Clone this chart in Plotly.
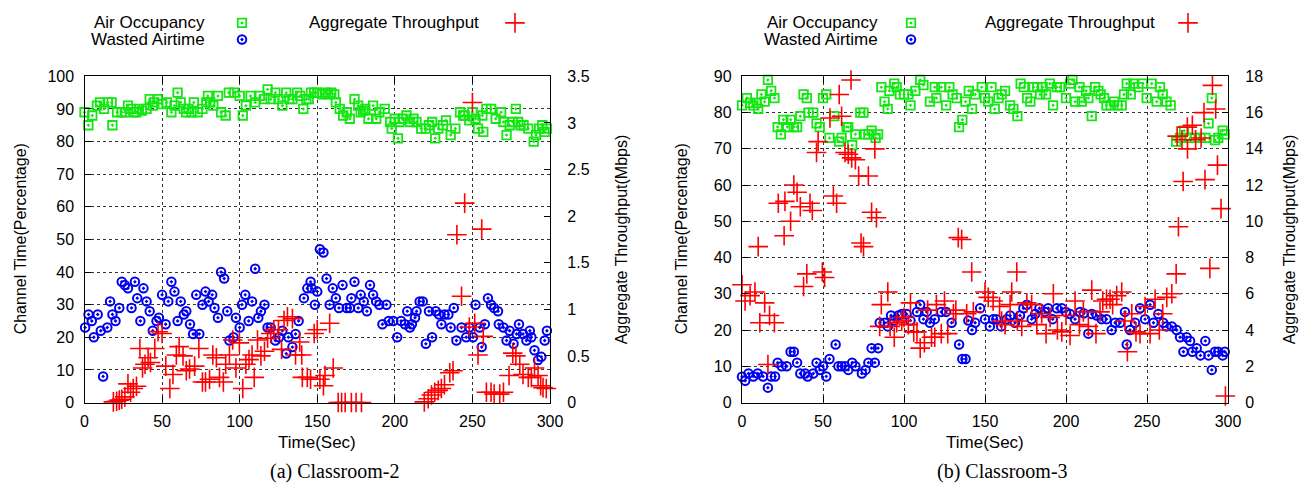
import plotly.graph_objects as go

# ---------------- Classroom-2 data ----------------
air2_t = [0,2.5,5,8,10,12.6,15,17.5,18,21, 24,26,28,30,32,33.5,35,37,40,42,
          44,45,47,50,53,56,58,60,62,64, 65.5,67,69,70.5,73,76,78.5,79.5,81,83,
          86,88,91,93,96.5,100,102,104,107,110, 113,116,118,120,123,125,127.5,130,132,134,
          137,139,141,143,144.5,146,148,150,153,155, 157,159,161,162,164.5,166.7,169,171,174,176.4,
          178,179.6,181,183,186,188,190,193.5,197,198, 200,202,203,205,207.5,209.7,212,214,217,220,
          222,224,226,228,231,233,236,239,242,244, 245,248,250,252,253.6,256.4,257,259,262,265,
          268.5,270,272,274,276,278,279.5,281,283,286, 289.5,291,293,295,296.5,298]
air2_v = [89,85,88,91,92,90,92,92,85,89, 89,89,91,90,89,89,90,89.5,90,93,
          91,92,93,91.5,92,89,91,95,92,90, 89,90,89,92,89,90,92,94,92,91,
          94,89,88,95,95,94,88,91,94,92, 94,93,96,93,95,93,91,95,93,93,
          95,94,90,93,93,95,95,95,94.5,95, 94.5,95,94.5,92,90,88,89,87,93,91,
          89,89.5,90,87,91,87,89,90,86,84, 87,81,86,87,88,86,87,86,84,84,
          85,86,81,84,85,86.5,82,84,89,88, 88,86.5,89,87,84,88,83,90,90,87,
          89,86,82,85,86,90,86,85,85,84, 80,82,84,85,83,84]

waste2_t = [0.4,2.6,4.7,6,8.5,10.5,12,14.7,16.5,18, 20,22.4,24,26,28,30.3,32.5,34,36,38,
            40,42,44,46.4,48,50,52.3,54,56,58, 60,62,64,65.6,68,70,72,74,76,78,
            80,82.3,83.8,86,88,90,92,93.4,96,97.6, 100,101.5,103.6,105.8,108,110,112,113.7,116,118,
            120,123,125.4,127.5,130,131.4,134,136,138,141.4, 143.6,145.7,146.4,148.5,150,151.7,154,156,158,160,
            162,164,166.3,169,171,172,174,176.4,178,180, 182,184,186,188,190,192,194.6,196,199,201.5,
            204,206.5,208,209.7,211,213,214,216,218,220, 222,224,226.4,228.5,230,232,234.5,236,238,239.7,
            243,246,248,250.4,252,254.7,256,258,260,262, 264,266.5,267,270,272,274,276.5,278.5,280,282.6,
            284.8,287,288,290,292.3,294.4,296.6,298]
waste2_v = [23,27,25,20,27,22,8,23,31,27, 25,29,37,36,35,29,37,32,25,35,
            31,28,22,25,26,33,24,31,37,34, 25,31,27,28,24,21,33,21,30,34,
            31,33,29,26,40,38,28,19,20,26, 23,30,33,25,31,41,26,28,30,23,
            23,19,20,22,15,20,17,21,25,32, 35,37,35,30,34,47,46,38,30,35,
            32,29,36,29,29,32,37,29,33,31, 28,36,33,31,30,24,30,25,25,20,
            25,24,28,23,24,26,28,31,31,18, 28,20,28,27,24,27,27,23,29,19,
            23,20,23,20,30,23,17,24,32,30, 29,28,24,23,19,22,18,21,24,21,
            19,22,20,16,13,14,19,22]

thr2_t = [18.6,20.7,22.4,24,26,28,29.7,31.4,33.5,35.7, 37.4,39,41,42.5,45.3,47.4,50,52.4,55,57,
          59.2,61,63.5,65.6,67.7,71,73.7,76,78,80.6, 82.7,85,87,89.5,91,93.4,95.5,97.6,99.8,102,
          104,106,108,109.4,111.5,113.7,116,118,120,122, 125,127,128.6,130.8,134,136,138.7,140,140.4,143.6,
          145.7,148,150,151.7,154,155,158,160.3,163.5,165.7, 168,172,175,178.5,219,221.5,223.6,225.7,228,230,
          232,235.4,237.5,240,243,245,248,250,251.5,253.6, 256,257,259,262,264,267.6,270,273.6,276,278,
          280.5,282.6,286,288,290,292.3,294,295.5,297.6]
thr2_v = [0.007,0.014,0.025,0.035,0.06,0.2,0.11,0.15,0.175,0.58, 0.37,0.41,0.48,0.43,0.58,0.76,0.74,0.39,0.15,0.30,
          0.51,0.60,0.50,0.34,0.36,0.39,0.58,0.22,0.22,0.25, 0.51,0.48,0.27,0.22,0.41,0.51,0.67,0.37,0.64,0.15,
          0.41,0.46,0.51,0.27,0.67,0.50,0.55,0.69,0.74,0.78, 0.78,0.57,0.88,0.92,0.90,0.51,0.65,0.51,0.27,0.27,
          0.25,0.74,0.78,0.25,0.18,0.29,0.85,0.37,0,0, 0,0,0,0,0.007,0.04,0.08,0.11,0.13,0.15,
          0.19,0.32,0.34,1.80,1.14,2.14,0.81,3.22,0.85,0.51, 1.86,0.71,0.11,0.11,0.09,0.09,0.11,0.29,0.53,0.50,
          0.41,0.30,0.27,0.27,0.37,0.29,0.18,0.16,0.15]

# ---------------- Classroom-3 data ----------------
air3_t = [0,3,5,7,9,10,12,14,16,18, 20,22,24,25.5,28,30,32,34,36,38,
          40,41,44,46,48,50,52,54,57,60, 61.5,64.6,65.6,68,70,73,75,76,78,80,
          82.5,84,86,88,90,91,94,95.5,97.5,100, 102.7,104,107,110,112,116,119,120,123,126,
          128,130,132.5,134,136,138,140,142,144,148, 150,152,154,156,158.3,160.3,162.4,165.5,167.5,170,
          172,174,176,178,180,182.3,184,185.6,187.7,190, 192,194.3,196.3,200,202.5,204,205.6,208.3,209.7,212.4,
          213.8,215.9,218,220,221.4,223.5,225,227.6,229.7,231.7, 234.4,235.8,237.5,240,241.6,244.7,247.4,249.8,252.9,256,
          258,259.7,262,264.6,268,270.4,272.9,276.6,279.7,283, 286,288,290,292,294,296.7,298]
air3_v = [82,84,82.7,82,82.7,81,85,83,89,86, 84,76,74,78,76,78,76,76,79,85,
          84,80,80,77,76,84,85,73,79,72, 73,76,76,71,74,80,80,74,74,75,
          73,74,87,83,81,86,88,87,85,85, 85,82,86,89,87.6,83,87,84,87,82,
          87,85,84,76,78,83,86,81,85,87, 84,83,87,81,84,85,86,82,81,79,
          88,87,84,83,87,87,85,87,85,88, 82,87,87,84,88,89,83,87,83,86,
          84,79,87,86,85,84,82,82,83,82, 82,85,88,85,88,87,88,84,88,83,
          87,85,83,82,72,73,75,73,73,73, 73,77,84,72.4,73,75,74]

waste3_t = [0,2,4,7,9.7,13,16,18,20.4,22, 24.5,27.6,30,32,34,36,39,40.5,44,46,
            48,50,52,54,57.8,59.5,61.5,63.6,65.6,68, 70,74,76.3,78,80,82,84,85,88,90,
            92,94,96.5,98.6,101.6,104,108,110,112,114, 116,119,123,126,129.4,134,136,138,139.7,142,
            143.9,147,150,153,155,157,160,163.4,165.5,168.5, 171.6,173.7,175.8,178.8,181,183.6,187,189,191.8,194.3,
            197.4,200,202.5,205.6,208.7,211,213.8,215.9,219,222, 225,228.2,230.3,233.4,236.4,237.5,239.5,242.6,245.7,248.8,
            251.9,254,257,260,262,265.3,268.3,270.4,272.5,274.5, 276.6,278,280.7,283,286,288,290,292,294,296.7,
            298]
waste3_v = [7.1,6,8,7.2,8,7.2,4.1,7.2,7.2,11, 10,10,14,14,11,8,8,7.2,8,11,
            9,10,7.2,12,16,10,10,10,9,11, 10,8,9,11,15,11,15,22,22,21,
            24,22.6,24,24.4,24.4,22.6,25,27,23,25, 22,23,25,25,22,16,12,12,22.6,20,
            22,26,23,21,23,23,21,23,24,22, 24,26,27,23,24.4,26,25,26,23,26,
            26,25,24.4,23,25,24.6,19,24.4,24,23, 23,20,22,22,25,16,20,22,26,23,
            27,22,24.4,22,21,21,20,18,14,18, 17,14,15,13,17,13,9,14,14,13,
            14]

thr3_t = [0,1.9,5,8,10,11,14,16,17,20, 22.4,26,26.5,30,32,34,36,38,40,42,
          43.4,46,47,49.6,51,54.3,56.4,58.4,60,61.5, 63.6,65.6,67.3,67.7,70,72,73.5,75,78,80,
          82,83,85,86,90,91.4,94,95.5,98.6,100, 102.7,104,106,108,110,112.6,114.6,117,119,120,
          123,125,127,130.5,132,133.5,135.6,138.7,141.8,142.8, 150,152,155,159,160.3,162.4,165.5,166.5,169.6,170,
          172.7,175.8,178.8,182,185,187.7,190.2,192.2,194.7,197.4, 200,202.5,205.6,208.3,210.7,213.8,215.9,218.5,221,222.7,
          225,227.2,228.8,231.3,234.4,236.4,237.9,240.6,243.2,245.7, 248.8,251.9,255,257.6,259.7,262.2,265.3,268,269.4,268.6,
          271.6,272.3,274.9,275,278,280,283.4,285.2,285.8,288.8, 290.4,292.4,293.5,295.7,298.4]
thr3_v = [6.5,5.6,5.9,6.1,8.6,4.4,5.5,2.1,4.8,4.4, 11,9.2,11.1,10,12,11.6,10.8,6.4,7.1,11,
          10.6,13.8,14.4,7.2,6.9,15.7,11.4,11,17,15.8, 13.8,13.7,17.8,13.5,13.4,12.5,8.8,8.6,12.5,10.5,
          14,10.2,4.2,5.4,6.1,4.2,3.6,4.4,4.5,4.7, 4.3,5.5,3.9,3.9,3,3.3,5.1,3.6,3.6,5.4,
          3.8,5.6,3.8,4.9,5.1,9.1,9.0,4.9,7.2,5.0, 6.1,5.8,5.6,5.3,4.5,4.3,5.4,6.1,7.2,4.5,
          4.2,5.5,5.4,4.3,4.9,3.8,4.7,6.0,4.0,3.9, 4.8,3.7,5.6,4.3,5.0,4.2,6.2,3.8,5.0,5.6,
          5.7,5.7,5.4,5.9,6.1,4.5,2.8,4.9,3.9,3.8, 5.3,3.8,5.7,4.0,4.9,5.8,6.0,7.1,9.7,14.7,
          14.5,12.2,15.2,14.0,15.3,14.5,14.6,16.0,12.3,7.4, 17.5,16.2,13.1,10.7,0.36]

x_ticks = [0, 50, 100, 150, 200, 250, 300]
series_names = ["Air Occupancy", "Wasted Airtime", "Aggregate Throughput"]
captions = ["(a) Classroom-2", "(b) Classroom-3"]

# ---------------- layout geometry ----------------
# the page body adds an 8px margin, so the figure is made 8px smaller and
# positions below are given in screenshot pixels, shifted by that offset
OFF = 8
W, H = 1309 - OFF, 488 - OFF
def px(x):
    return (x - OFF) / W
def py(y):
    return 1 - (y - OFF) / H

SANS = "Liberation Sans, Arial, Helvetica, sans-serif"
SERIF = "Liberation Serif, Times New Roman, serif"
GREEN = "#14e614"
BLUE = "#0000f0"
RED = "#ff0000"

ydom = [py(400.5), py(66.7)]
xdom1 = [px(84.5), px(550)]
xdom2 = [px(742), px(1228)]

fig = go.Figure()

def add_panel(ax_x, ax_y, ax_y2, at, av, wt, wv, tt, tv, legends):
    fig.add_trace(go.Scatter(x=at, y=av, mode="markers", xaxis=ax_x, yaxis=ax_y,
                             name=" ", legend=legends[0], showlegend=True,
                             marker=dict(symbol="square-open-dot", size=8.5, color=GREEN,
                                         line=dict(width=1.8, color=GREEN)),
                             cliponaxis=False))
    fig.add_trace(go.Scatter(x=wt, y=wv, mode="markers", xaxis=ax_x, yaxis=ax_y,
                             name=" ", legend=legends[1], showlegend=True,
                             marker=dict(symbol="circle-open-dot", size=8.5, color=BLUE,
                                         line=dict(width=2, color=BLUE)),
                             cliponaxis=False))
    fig.add_trace(go.Scatter(x=tt, y=tv, mode="markers", xaxis=ax_x, yaxis=ax_y2,
                             name=" ", legend=legends[2], showlegend=True,
                             marker=dict(symbol="cross-thin-open", size=14, color=RED,
                                         line=dict(width=1.6, color=RED)),
                             cliponaxis=False))

add_panel("x", "y", "y2", air2_t, air2_v, waste2_t, waste2_v, thr2_t, thr2_v,
          ["legend", "legend2", "legend3"])
add_panel("x2", "y3", "y4", air3_t, air3_v, waste3_t, waste3_v, thr3_t, thr3_v,
          ["legend4", "legend5", "legend6"])

tickfont = dict(family=SANS, size=16, color="black")
common = dict(showline=True, linecolor="black", linewidth=1.3, ticks="inside", ticklen=6,
              tickcolor="black", tickwidth=1, zeroline=False, tickfont=tickfont,
              fixedrange=True, automargin=False)
grid = dict(showgrid=True, gridcolor="#333333", griddash="dot", gridwidth=1)

fig.update_layout(
    template="none",
    width=W, height=H, margin=dict(l=0, r=0, t=0, b=0, pad=0),
    plot_bgcolor="white", paper_bgcolor="white",
    xaxis=dict(domain=xdom1, anchor="y", range=[0, 300], tickvals=x_ticks, mirror="ticks",
               ticklabelstandoff=4, **common, **grid),
    yaxis=dict(domain=ydom, anchor="x", range=[0, 100], dtick=10, mirror=True,
               ticklabelstandoff=6, **common, **grid),
    yaxis2=dict(anchor="x", overlaying="y", side="right", range=[0, 3.5], dtick=0.5,
                showgrid=False, ticklabelstandoff=13, **common),
    xaxis2=dict(domain=xdom2, anchor="y3", range=[0, 300], tickvals=x_ticks, mirror="ticks",
                ticklabelstandoff=4, **common, **grid),
    yaxis3=dict(domain=ydom, anchor="x2", range=[0, 90], dtick=10, mirror=True,
                ticklabelstandoff=6, **common, **grid),
    yaxis4=dict(anchor="x2", overlaying="y3", side="right", range=[0, 18], dtick=2,
                showgrid=False, ticklabelstandoff=13, **common),
)

# legends: symbol placed right of the text (gnuplot style)
leg_pos = {"legend": (242, 12), "legend2": (242, 29), "legend3": (515, 12),
           "legend4": (911, 12), "legend5": (911, 29), "legend6": (1188, 12)}
for k, (sx, sy) in leg_pos.items():
    fig.update_layout({k: dict(x=px(sx - 20), y=py(sy), xanchor="left", yanchor="middle",
                               bgcolor="rgba(0,0,0,0)", borderwidth=0, itemwidth=30,
                               font=dict(size=1), tracegroupgap=0)})

legfont = dict(family=SANS, size=17, color="black")
leg_text = [(series_names[0], 207, 12), (series_names[1], 207, 29), (series_names[2], 481, 12),
            (series_names[0], 880, 12), (series_names[1], 880, 29), (series_names[2], 1157, 12)]
ann = []
for txt, x, y in leg_text:
    ann.append(dict(text=txt, x=px(x), y=py(y), xref="paper", yref="paper",
                    xanchor="right", yanchor="middle", showarrow=False, font=legfont))

titlefont = dict(family=SANS, size=16, color="black")
for cx, lx, rx in [(317, 20, 621), (985, 681, 1289)]:
    ann.append(dict(text="Time(Sec)", x=px(cx), y=py(441), xref="paper", yref="paper",
                    xanchor="center", yanchor="middle", showarrow=False,
                    font=dict(family=SANS, size=17, color="black")))
    ann.append(dict(text="Channel Time(Percentage)", x=px(lx), y=py(233.5), xref="paper",
                    yref="paper", xanchor="center", yanchor="middle", textangle=-90,
                    showarrow=False, font=titlefont))
    ann.append(dict(text="Aggregate Throughput(Mbps)", x=px(rx), y=py(233.5), xref="paper",
                    yref="paper", xanchor="center", yanchor="middle", textangle=-90,
                    showarrow=False, font=titlefont))
for cap, cx in zip(captions, [334, 1002]):
    ann.append(dict(text=cap, x=px(cx), y=py(471), xref="paper", yref="paper",
                    xanchor="center", yanchor="middle", showarrow=False,
                    font=dict(family=SERIF, size=20, color="black")))
fig.update_layout(annotations=ann)

fig.write_html("out.html")
